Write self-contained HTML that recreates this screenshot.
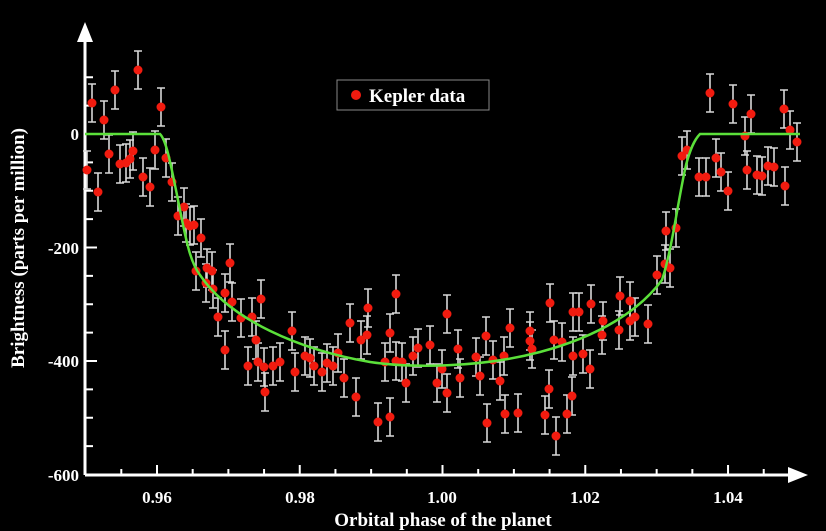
<!DOCTYPE html>
<html><head><style>
html,body{margin:0;padding:0;background:#000;}
svg{display:block;}
text{font-family:"Liberation Serif",serif;font-weight:bold;fill:#fff;}
</style></head><body>
<svg width="826" height="531" viewBox="0 0 826 531" xmlns="http://www.w3.org/2000/svg">
<rect width="826" height="531" fill="#000"/>
<g id="ticks" stroke="#fff" stroke-width="2"></g>
<line x1="85" y1="475" x2="790" y2="475" stroke="#fff" stroke-width="3"/>
<line x1="85" y1="475" x2="85" y2="40" stroke="#fff" stroke-width="3"/>
<polygon points="77,42 93,42 85,22" fill="#fff"/>
<polygon points="788,467 788,483 808,475" fill="#fff"/>
<g font-size="17" text-anchor="end">
<text x="79" y="140">0</text>
<text x="79" y="254">-200</text>
<text x="79" y="367">-400</text>
<text x="79" y="481">-600</text>
</g>
<g font-size="17" text-anchor="middle">
<text x="157" y="503">0.96</text>
<text x="300" y="503">0.98</text>
<text x="442" y="503">1.00</text>
<text x="585" y="503">1.02</text>
<text x="728" y="503">1.04</text>
<text x="443" y="526" font-size="19">Orbital phase of the planet</text>
</g>
<text transform="translate(24,248) rotate(-90)" font-size="19" text-anchor="middle">Brightness (parts per million)</text>
<g id="pts"></g>
<path d="M85,134 L160,134 C166,140 170,160 178,200 C186,240 190,262 200,275 C230,320 300,350 370,362 C410,368 480,368 540,352 C600,336 640,310 662,280 C672,250 678,200 686,165 C690,150 694,140 700,134 L800,134" fill="none" stroke="#5be03a" stroke-width="2.5"/>
<rect x="337" y="80" width="152" height="30" fill="#000" stroke="#888" stroke-width="1"/>
<circle cx="356" cy="95" r="5" fill="#f21b0f"/>
<text x="369" y="102" font-size="19">Kepler data</text>
</svg>
<script>
var ns="http://www.w3.org/2000/svg";
var t=document.getElementById("ticks");
for(var i=0;i<=21;i++){var x=85+ (i*35.69) - (85-85);x=121.3-35.69+ i*35.69; if(x<86||x>790)continue;
 var maj=Math.abs(((x-157)/142.75)-Math.round((x-157)/142.75))<0.01;
 var l=document.createElementNS(ns,"line");l.setAttribute("x1",x);l.setAttribute("x2",x);l.setAttribute("y1",475);l.setAttribute("y2",maj?465:469);t.appendChild(l);}
for(var v=100;v>=-600;v-=50){var y=134-v*113.5/200; if(y<45||y>474)continue;
 var maj=(v%200==0);var l=document.createElementNS(ns,"line");l.setAttribute("x1",85);l.setAttribute("x2",maj?97:93);l.setAttribute("y1",y);l.setAttribute("y2",y);t.appendChild(l);}
var P=[[87,170],[92,103],[98,192],[104,120],[109,154],[115,90],[120,164],[126,163],[130,159],[133,151],[138,70],[143,177],[150,187],[155,150],[161,107],[166,158],[172,182],[178,216],[184,207],[186,223],[190,226],[196,271],[194,225],[201,238],[206,283],[207,268],[212,271],[213,289],[218,317],[225,293],[230,263],[232,302],[225,350],[241,318],[248,366],[252,317],[256,340],[261,299],[258,362],[264,367],[265,392],[273,366],[280,362],[292,331],[295,372],[305,356],[310,358],[314,366],[322,372],[327,363],[333,366],[338,353],[344,378],[350,323],[356,397],[361,340],[368,308],[367,335],[378,422],[385,362],[390,417],[390,333],[396,294],[396,361],[402,362],[406,383],[413,356],[418,348],[430,345],[437,383],[447,314],[442,369],[447,393],[458,349],[460,378],[476,357],[480,376],[486,336],[487,423],[493,360],[500,381],[504,356],[505,414],[510,328],[518,413],[530,331],[530,341],[532,349],[545,415],[550,303],[549,389],[556,436],[554,340],[562,342],[567,414],[573,356],[572,396],[573,312],[579,312],[583,354],[590,369],[591,304],[602,335],[603,321],[619,330],[620,296],[630,321],[630,301],[635,317],[648,324],[657,275],[665,264],[666,231],[670,268],[676,228],[682,156],[687,150],[699,177],[706,177],[716,158],[721,172],[728,191],[710,93],[733,104],[745,136],[747,170],[751,114],[757,175],[762,176],[768,166],[774,167],[784,109],[785,186],[790,130],[797,142]];
var g=document.getElementById("pts");var s="";
P.forEach(function(p){var x=p[0],y=p[1];
s+='<path d="M'+x+','+(y-19)+'V'+(y+19)+'M'+(x-4)+','+(y-19)+'H'+(x+4)+'M'+(x-4)+','+(y+19)+'H'+(x+4)+'" stroke="#d8d8d8" stroke-width="1.6" fill="none"/>';});
P.forEach(function(p){s+='<circle cx="'+p[0]+'" cy="'+p[1]+'" r="4.5" fill="#f21b0f"/>';});
g.innerHTML=s;
</script>
</body></html>
